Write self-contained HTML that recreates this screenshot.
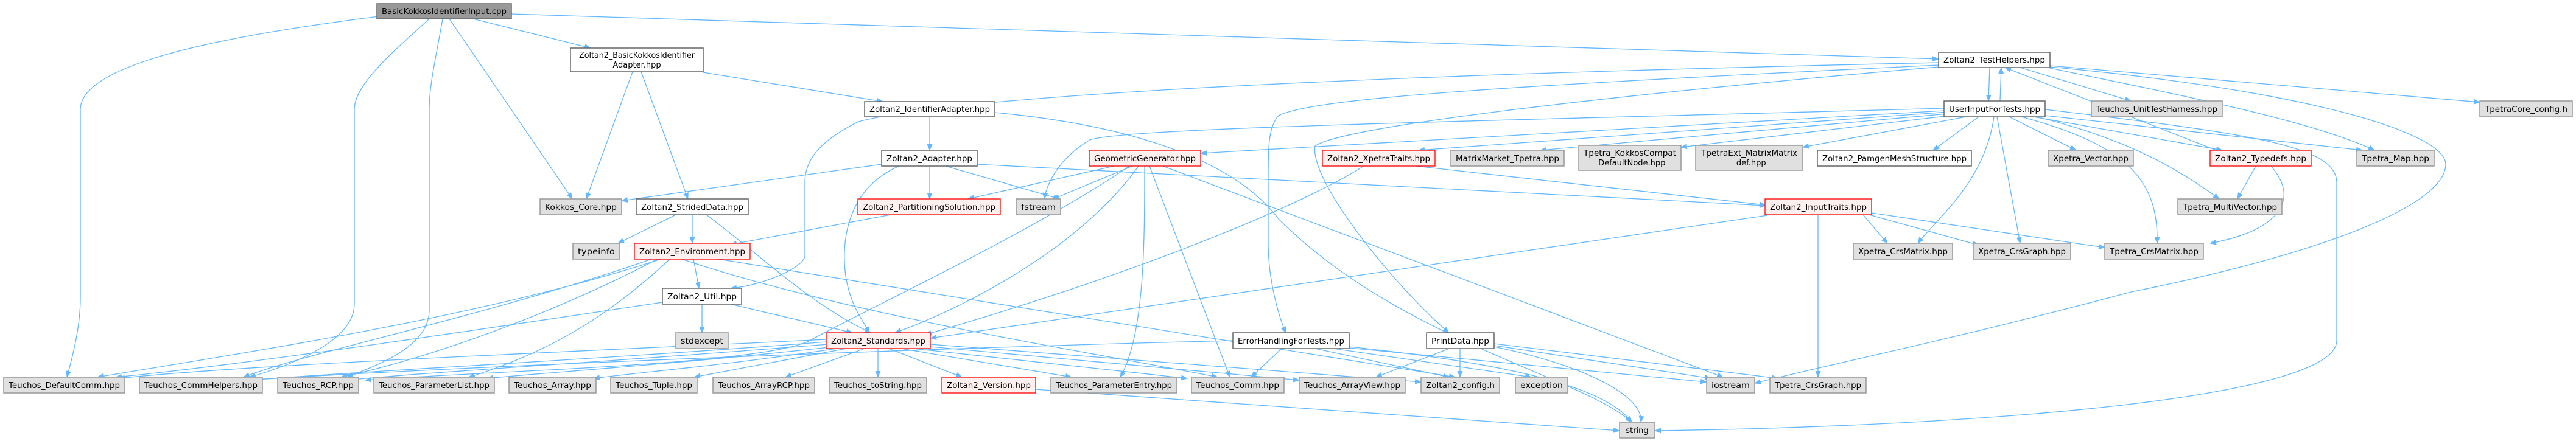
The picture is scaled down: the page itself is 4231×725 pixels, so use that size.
<!DOCTYPE html>
<html><head><meta charset="utf-8"><style>
html,body{margin:0;padding:0;background:#fff;}
svg{display:block;}
text{font-family:"DejaVu Sans","Liberation Sans",sans-serif;font-size:13px;fill:#000;}
.e{fill:none;stroke:#63b8ff;stroke-width:1.3;marker-end:url(#a);}
.g{fill:#e0e0e0;stroke:#999;stroke-width:1.5;}
.w{fill:#fff;stroke:#666;stroke-width:1.5;}
.r{fill:#fff0f0;stroke:#f00;stroke-width:1.3;}
.k{fill:#999;stroke:#666;stroke-width:1.5;}
</style></head><body>
<svg width="4231" height="725" viewBox="0 0 4231 725" xmlns="http://www.w3.org/2000/svg">
<defs><marker id="a" markerUnits="userSpaceOnUse" markerWidth="11" markerHeight="9" refX="10" refY="4.5" orient="auto"><path d="M0,0 L11,4.5 L0,9 z" fill="#63b8ff"/></marker></defs>
<g>
<path class="e" d="M622,27 C400,55 132,100 132,180 L132,490 C132,540 118,590 110,620"/>
<path class="e" d="M705,31 C640,90 582,140 582,180 L582,500 C582,560 480,600 410,620"/>
<path class="e" d="M727,31 C715,100 705,140 705,180 L705,510 C705,570 620,600 570,620"/>
<path class="e" d="M738,31 L940,327"/>
<path class="e" d="M777,31 L970,79"/>
<path class="e" d="M840,23 L3184,97"/>
<path class="e" d="M1039,118 L963,327"/>
<path class="e" d="M1053,118 L1130,327"/>
<path class="e" d="M1155,119 L1450,167"/>
<path class="e" d="M1527,192 L1527,247"/>
<path class="e" d="M1634,185 C1900,210 2040,280 2100,360 C2300,560 2600,620 2680,694"/>
<path class="e" d="M1448,270 L1021,330"/>
<path class="e" d="M1527,273 L1527,327"/>
<path class="e" d="M1553,273 L1740,327"/>
<path class="e" d="M1477,273 C1390,310 1380,400 1390,460 C1400,510 1420,530 1428,547"/>
<path class="e" d="M1605,270 L2900,338"/>
<path class="e" d="M1110,353 L1015,400"/>
<path class="e" d="M1137,353 L1137,400"/>
<path class="e" d="M1160,353 C1250,420 1330,500 1430,547"/>
<path class="e" d="M1463,353 L1200,402"/>
<path class="e" d="M1139,426 L1148,474"/>
<path class="e" d="M1085,426 C800,520 400,580 160,620"/>
<path class="e" d="M1070,426 C800,520 500,580 400,620"/>
<path class="e" d="M1080,426 C900,520 700,590 560,620"/>
<path class="e" d="M1100,426 C1000,520 900,580 770,620"/>
<path class="e" d="M1120,426 C1400,520 1800,580 2000,620"/>
<path class="e" d="M1180,426 L2390,620"/>
<path class="e" d="M1200,500 L1400,547"/>
<path class="e" d="M1153,500 L1153,547"/>
<path class="e" d="M1088,497 C800,540 400,600 190,620"/>
<path class="e" d="M1357,558 C900,580 400,600 195,622"/>
<path class="e" d="M1357,562 C1000,590 600,610 420,624"/>
<path class="e" d="M1360,566 C1000,595 700,612 580,624"/>
<path class="e" d="M1370,570 C1100,600 900,612 800,622"/>
<path class="e" d="M1380,572 C1200,600 1050,612 975,622"/>
<path class="e" d="M1390,573 L1140,620"/>
<path class="e" d="M1420,573 L1290,620"/>
<path class="e" d="M1442,573 L1442,620"/>
<path class="e" d="M1460,573 L1580,620"/>
<path class="e" d="M1480,573 L1760,620"/>
<path class="e" d="M1500,573 L1950,622"/>
<path class="e" d="M1528,570 L2134,625"/>
<path class="e" d="M1528,566 L2334,628"/>
<path class="e" d="M1701,640 L2660,708"/>
<path class="e" d="M1830,273 L1590,327"/>
<path class="e" d="M1860,273 L1730,327"/>
<path class="e" d="M1870,273 C1780,400 1600,500 1470,547"/>
<path class="e" d="M1855,273 C1700,380 1400,520 1330,560 C1250,600 800,610 600,625"/>
<path class="e" d="M1880,273 C1880,400 1880,550 1840,620"/>
<path class="e" d="M1888,273 L2020,620"/>
<path class="e" d="M1910,273 L2830,620"/>
<path class="e" d="M3184,103 C2400,120 1600,150 1410,200 C1350,230 1322,260 1322,300 L1322,420 C1322,440 1250,470 1200,474"/>
<path class="e" d="M3184,107 C2500,140 2160,160 2100,190 C2083,210 2083,240 2083,300 L2083,400 C2083,460 2100,520 2112,547"/>
<path class="e" d="M3184,110 C2600,160 2200,210 2160,240 C2150,300 2300,480 2380,547"/>
<path class="e" d="M3318,111 L3500,166"/>
<path class="e" d="M3367,112 C3600,160 3800,200 3900,247"/>
<path class="e" d="M3367,108 L4073,168"/>
<path class="e" d="M3367,110 C3800,150 4017,220 4017,270 C4017,340 3800,420 3500,480 C3200,560 3000,600 2882,630"/>
<path class="e" d="M3268,111 L3266,166"/>
<path class="e" d="M3285,166 L3287,111"/>
<path class="e" d="M3359,180 C3700,220 3838,240 3838,300 L3838,560 C3838,650 3300,700 2718,708"/>
<path class="e" d="M3300,192 L3410,247"/>
<path class="e" d="M3340,192 L3650,247"/>
<path class="e" d="M3359,190 L3880,247"/>
<path class="e" d="M3345,192 C3500,230 3580,280 3645,327"/>
<path class="e" d="M3320,192 C3500,240 3545,300 3543,400"/>
<path class="e" d="M3280,192 L3318,400"/>
<path class="e" d="M3275,192 C3260,300 3180,360 3150,400"/>
<path class="e" d="M3250,192 L3175,247"/>
<path class="e" d="M3240,190 L2961,242"/>
<path class="e" d="M3220,188 L2761,242"/>
<path class="e" d="M3210,186 L2530,247"/>
<path class="e" d="M3200,184 L2330,247"/>
<path class="e" d="M3193,182 L1972,252"/>
<path class="e" d="M3193,178 C2400,200 1850,210 1790,230 C1740,260 1720,300 1715,327"/>
<path class="e" d="M3705,273 L3675,327"/>
<path class="e" d="M3730,273 C3780,330 3740,380 3630,400"/>
<path class="e" d="M3640,247 L3293,111"/>
<path class="e" d="M2325,273 L2900,337"/>
<path class="e" d="M2240,273 C2150,330 1900,440 1520,550"/>
<path class="e" d="M2903,354 L1528,556"/>
<path class="e" d="M2986,353 L2986,620"/>
<path class="e" d="M3060,353 L3100,400"/>
<path class="e" d="M3070,353 L3250,403"/>
<path class="e" d="M3074,350 L3457,407"/>
<path class="e" d="M2105,573 L2055,620"/>
<path class="e" d="M2160,573 L2380,620"/>
<path class="e" d="M2190,573 L2515,620"/>
<path class="e" d="M2216,572 L2803,628"/>
<path class="e" d="M2025,560 C1600,570 800,600 420,624"/>
<path class="e" d="M2216,570 C2500,600 2640,640 2680,694"/>
<path class="e" d="M2380,573 L2260,620"/>
<path class="e" d="M2398,573 L2398,620"/>
<path class="e" d="M2454,568 L2810,622"/>
<path class="e" d="M2454,565 L2920,622"/>
<path class="e" d="M2454,570 C2600,600 2700,650 2695,694"/>
</g>
<g>
<rect class="k" x="619" y="6" width="221" height="25"/><text x="729.5" y="23" text-anchor="middle" textLength="205" lengthAdjust="spacingAndGlyphs">BasicKokkosIdentifierInput.cpp</text>
<rect class="w" x="937" y="79" width="218" height="39"/><text x="1046" y="95" text-anchor="middle" textLength="190" lengthAdjust="spacingAndGlyphs">Zoltan2_BasicKokkosIdentifier</text><text x="1046" y="111" text-anchor="middle">Adapter.hpp</text>
<rect class="g" x="887" y="327" width="134" height="26"/><text x="954" y="345" text-anchor="middle" textLength="118" lengthAdjust="spacingAndGlyphs">Kokkos_Core.hpp</text>
<rect class="w" x="1045" y="327" width="184" height="26"/><text x="1137" y="345" text-anchor="middle" textLength="168" lengthAdjust="spacingAndGlyphs">Zoltan2_StridedData.hpp</text>
<rect class="g" x="941" y="400" width="77" height="26"/><text x="979.5" y="418" text-anchor="middle" textLength="61" lengthAdjust="spacingAndGlyphs">typeinfo</text>
<rect class="r" x="1042" y="400" width="190" height="26"/><text x="1137" y="418" text-anchor="middle" textLength="174" lengthAdjust="spacingAndGlyphs">Zoltan2_Environment.hpp</text>
<rect class="w" x="1088" y="474" width="130" height="26"/><text x="1153" y="492" text-anchor="middle" textLength="114" lengthAdjust="spacingAndGlyphs">Zoltan2_Util.hpp</text>
<rect class="g" x="1110" y="547" width="86" height="26"/><text x="1153" y="565" text-anchor="middle" textLength="70" lengthAdjust="spacingAndGlyphs">stdexcept</text>
<rect class="r" x="1357" y="547" width="171" height="26"/><text x="1442.5" y="565" text-anchor="middle" textLength="155" lengthAdjust="spacingAndGlyphs">Zoltan2_Standards.hpp</text>
<rect class="g" x="6" y="620" width="199" height="26"/><text x="105.5" y="638" text-anchor="middle" textLength="183" lengthAdjust="spacingAndGlyphs">Teuchos_DefaultComm.hpp</text>
<rect class="g" x="229" y="620" width="202" height="26"/><text x="330" y="638" text-anchor="middle" textLength="186" lengthAdjust="spacingAndGlyphs">Teuchos_CommHelpers.hpp</text>
<rect class="g" x="456" y="620" width="133" height="26"/><text x="522.5" y="638" text-anchor="middle" textLength="117" lengthAdjust="spacingAndGlyphs">Teuchos_RCP.hpp</text>
<rect class="g" x="614" y="620" width="198" height="26"/><text x="713" y="638" text-anchor="middle" textLength="182" lengthAdjust="spacingAndGlyphs">Teuchos_ParameterList.hpp</text>
<rect class="g" x="836" y="620" width="143" height="26"/><text x="907.5" y="638" text-anchor="middle" textLength="127" lengthAdjust="spacingAndGlyphs">Teuchos_Array.hpp</text>
<rect class="g" x="1003" y="620" width="142" height="26"/><text x="1074" y="638" text-anchor="middle" textLength="126" lengthAdjust="spacingAndGlyphs">Teuchos_Tuple.hpp</text>
<rect class="g" x="1171" y="620" width="167" height="26"/><text x="1254.5" y="638" text-anchor="middle" textLength="151" lengthAdjust="spacingAndGlyphs">Teuchos_ArrayRCP.hpp</text>
<rect class="g" x="1362" y="620" width="160" height="26"/><text x="1442" y="638" text-anchor="middle" textLength="144" lengthAdjust="spacingAndGlyphs">Teuchos_toString.hpp</text>
<rect class="r" x="1547" y="620" width="154" height="26"/><text x="1624" y="638" text-anchor="middle" textLength="138" lengthAdjust="spacingAndGlyphs">Zoltan2_Version.hpp</text>
<rect class="g" x="1726" y="620" width="207" height="26"/><text x="1829.5" y="638" text-anchor="middle" textLength="191" lengthAdjust="spacingAndGlyphs">Teuchos_ParameterEntry.hpp</text>
<rect class="g" x="1957" y="620" width="152" height="26"/><text x="2033" y="638" text-anchor="middle" textLength="136" lengthAdjust="spacingAndGlyphs">Teuchos_Comm.hpp</text>
<rect class="g" x="2134" y="620" width="174" height="26"/><text x="2221" y="638" text-anchor="middle" textLength="158" lengthAdjust="spacingAndGlyphs">Teuchos_ArrayView.hpp</text>
<rect class="g" x="2334" y="620" width="129" height="26"/><text x="2398.5" y="638" text-anchor="middle" textLength="113" lengthAdjust="spacingAndGlyphs">Zoltan2_config.h</text>
<rect class="g" x="2489" y="620" width="86" height="26"/><text x="2532" y="638" text-anchor="middle" textLength="70" lengthAdjust="spacingAndGlyphs">exception</text>
<rect class="g" x="2803" y="620" width="79" height="26"/><text x="2842.5" y="638" text-anchor="middle" textLength="63" lengthAdjust="spacingAndGlyphs">iostream</text>
<rect class="g" x="2907" y="620" width="158" height="26"/><text x="2986" y="638" text-anchor="middle" textLength="142" lengthAdjust="spacingAndGlyphs">Tpetra_CrsGraph.hpp</text>
<rect class="g" x="2660" y="694" width="58" height="26"/><text x="2689" y="712" text-anchor="middle">string</text>
<rect class="w" x="1420" y="167" width="214" height="25"/><text x="1527" y="184" text-anchor="middle" textLength="198" lengthAdjust="spacingAndGlyphs">Zoltan2_IdentifierAdapter.hpp</text>
<rect class="w" x="1448" y="247" width="157" height="26"/><text x="1526.5" y="265" text-anchor="middle" textLength="141" lengthAdjust="spacingAndGlyphs">Zoltan2_Adapter.hpp</text>
<rect class="r" x="1409" y="327" width="234" height="26"/><text x="1526" y="345" text-anchor="middle" textLength="218" lengthAdjust="spacingAndGlyphs">Zoltan2_PartitioningSolution.hpp</text>
<rect class="g" x="1669" y="327" width="73" height="26"/><text x="1705.5" y="345" text-anchor="middle" textLength="57" lengthAdjust="spacingAndGlyphs">fstream</text>
<rect class="r" x="1789" y="247" width="183" height="26"/><text x="1880.5" y="265" text-anchor="middle" textLength="167" lengthAdjust="spacingAndGlyphs">GeometricGenerator.hpp</text>
<rect class="w" x="2025" y="547" width="191" height="26"/><text x="2120.5" y="565" text-anchor="middle" textLength="175" lengthAdjust="spacingAndGlyphs">ErrorHandlingForTests.hpp</text>
<rect class="w" x="2343" y="547" width="111" height="26"/><text x="2398.5" y="565" text-anchor="middle" textLength="95" lengthAdjust="spacingAndGlyphs">PrintData.hpp</text>
<rect class="r" x="2172" y="247" width="185" height="26"/><text x="2264.5" y="265" text-anchor="middle" textLength="169" lengthAdjust="spacingAndGlyphs">Zoltan2_XpetraTraits.hpp</text>
<rect class="g" x="2383" y="247" width="186" height="26"/><text x="2476" y="265" text-anchor="middle" textLength="170" lengthAdjust="spacingAndGlyphs">MatrixMarket_Tpetra.hpp</text>
<rect class="g" x="2593" y="239" width="168" height="41"/><text x="2677" y="256" text-anchor="middle" textLength="152" lengthAdjust="spacingAndGlyphs">Tpetra_KokkosCompat</text><text x="2677" y="272" text-anchor="middle">_DefaultNode.hpp</text>
<rect class="g" x="2785" y="239" width="176" height="41"/><text x="2873" y="256" text-anchor="middle" textLength="158" lengthAdjust="spacingAndGlyphs">TpetraExt_MatrixMatrix</text><text x="2873" y="272" text-anchor="middle">_def.hpp</text>
<rect class="w" x="2985" y="247" width="253" height="26"/><text x="3111.5" y="265" text-anchor="middle" textLength="237" lengthAdjust="spacingAndGlyphs">Zoltan2_PamgenMeshStructure.hpp</text>
<rect class="r" x="2899" y="327" width="175" height="26"/><text x="2986.5" y="345" text-anchor="middle" textLength="159" lengthAdjust="spacingAndGlyphs">Zoltan2_InputTraits.hpp</text>
<rect class="g" x="3044" y="400" width="163" height="26"/><text x="3125.5" y="418" text-anchor="middle" textLength="147" lengthAdjust="spacingAndGlyphs">Xpetra_CrsMatrix.hpp</text>
<rect class="w" x="3184" y="86" width="183" height="25"/><text x="3275.5" y="103" text-anchor="middle" textLength="167" lengthAdjust="spacingAndGlyphs">Zoltan2_TestHelpers.hpp</text>
<rect class="w" x="3193" y="166" width="166" height="26"/><text x="3276" y="184" text-anchor="middle" textLength="150" lengthAdjust="spacingAndGlyphs">UserInputForTests.hpp</text>
<rect class="g" x="3435" y="166" width="215" height="26"/><text x="3542.5" y="184" text-anchor="middle" textLength="199" lengthAdjust="spacingAndGlyphs">Teuchos_UnitTestHarness.hpp</text>
<rect class="g" x="4073" y="166" width="152" height="26"/><text x="4149" y="184" text-anchor="middle" textLength="136" lengthAdjust="spacingAndGlyphs">TpetraCore_config.h</text>
<rect class="g" x="3364" y="247" width="140" height="26"/><text x="3434" y="265" text-anchor="middle" textLength="124" lengthAdjust="spacingAndGlyphs">Xpetra_Vector.hpp</text>
<rect class="r" x="3630" y="247" width="166" height="26"/><text x="3713" y="265" text-anchor="middle" textLength="150" lengthAdjust="spacingAndGlyphs">Zoltan2_Typedefs.hpp</text>
<rect class="g" x="3871" y="247" width="127" height="26"/><text x="3934.5" y="265" text-anchor="middle" textLength="111" lengthAdjust="spacingAndGlyphs">Tpetra_Map.hpp</text>
<rect class="g" x="3577" y="327" width="171" height="26"/><text x="3662.5" y="345" text-anchor="middle" textLength="155" lengthAdjust="spacingAndGlyphs">Tpetra_MultiVector.hpp</text>
<rect class="g" x="3241" y="400" width="160" height="26"/><text x="3321" y="418" text-anchor="middle" textLength="144" lengthAdjust="spacingAndGlyphs">Xpetra_CrsGraph.hpp</text>
<rect class="g" x="3457" y="400" width="162" height="26"/><text x="3538" y="418" text-anchor="middle" textLength="146" lengthAdjust="spacingAndGlyphs">Tpetra_CrsMatrix.hpp</text>
</g>
</svg>
</body></html>
